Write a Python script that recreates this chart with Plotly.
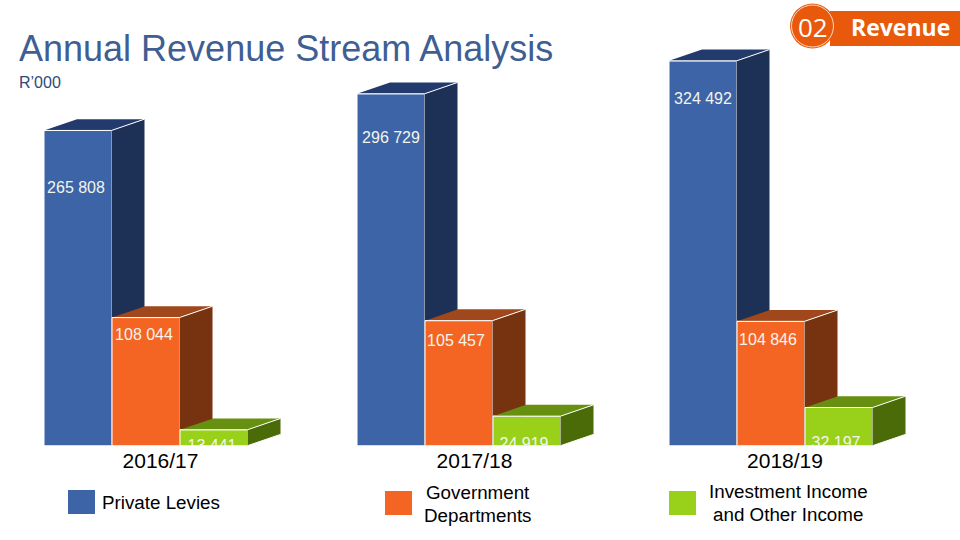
import plotly.graph_objects as go

# ---------- data ----------
years = ["2016/17", "2017/18", "2018/19"]
private_levies = [265808, 296729, 324492]
government = [108044, 105457, 104846]
investment = [13441, 24919, 32197]

series_names = ["Private Levies", "Government Departments", "Investment Income and Other Income"]
front_colors = ["#3c64a6", "#f46524", "#98d01a"]
side_colors = ["#1d3056", "#77330f", "#4a6b08"]
top_colors = ["#233a6c", "#a0471b", "#679010"]

# ---------- layout constants ----------
W, H = 960, 540
BASE_PX = 445.7
PX_PER_UNIT = 1.186 / 1000
group_left = [44, 357, 669]
bar_pitch = 68
bar_width = 67.5
depth_x = 33
depth_px = 11.3
depth_y = depth_px / PX_PER_UNIT
y_top = BASE_PX / PX_PER_UNIT
label_x = [[76, 144, 212], [391, 456, 524], [703, 768, 836]]
label_py = [[189, 336, 447], [139, 342, 445], [100, 341, 444]]


def v_from_px(p):
    return (BASE_PX - p) / PX_PER_UNIT


def py(p):
    return 1 - p / H


fig = go.Figure()
all_series = [private_levies, government, investment]
for s, values in enumerate(all_series):
    yname = "y" if s == 0 else f"y{s + 1}"
    xs = [g + s * bar_pitch + bar_width / 2 for g in group_left]
    fig.add_trace(go.Bar(
        x=xs, y=values, width=bar_width, yaxis=yname, name=series_names[s],
        marker=dict(color=front_colors[s], line=dict(color="white", width=1)),
        showlegend=False, hoverinfo="skip"))
    for x, v in zip(xs, values):
        x0, x1 = x - bar_width / 2, x + bar_width / 2
        # top face
        fig.add_trace(go.Scatter(
            x=[x0, x1, x1 + depth_x, x0 + depth_x, x0],
            y=[v, v, v + depth_y, v + depth_y, v],
            fill="toself", fillcolor=top_colors[s], mode="none", yaxis=yname,
            showlegend=False, hoverinfo="skip"))
        # side face
        fig.add_trace(go.Scatter(
            x=[x1, x1 + depth_x, x1 + depth_x, x1, x1],
            y=[v, v + depth_y, depth_y, 0, v],
            fill="toself", fillcolor=side_colors[s], mode="none", yaxis=yname,
            showlegend=False, hoverinfo="skip"))
        # white highlight edges
        fig.add_trace(go.Scatter(
            x=[x0, x1, x1 + depth_x, None, x1, x1 + depth_x],
            y=[v, v, v + depth_y, None, 0, depth_y],
            mode="lines", line=dict(color="white", width=1), yaxis=yname,
            showlegend=False, hoverinfo="skip"))

# value labels, clipped at the baseline by the axes
lx, ly, lt = [], [], []
for g in range(3):
    for s in range(3):
        lx.append(label_x[g][s])
        ly.append(v_from_px(label_py[g][s]))
        lt.append(f"{all_series[s][g]:,}".replace(",", " "))
fig.add_trace(go.Scatter(
    x=lx, y=ly, text=lt, mode="text", yaxis="y4", cliponaxis=True,
    textposition="middle center",
    textfont=dict(family="Liberation Sans", size=16, color="#f4f4ee"),
    showlegend=False, hoverinfo="skip"))

domain = [1 - BASE_PX / H, 1]
yax = dict(domain=domain, range=[0, y_top], visible=False, fixedrange=True)
shapes = [
    dict(type="rect", xref="paper", yref="paper", x0=830 / W, x1=1, y0=py(46), y1=py(11),
         fillcolor="#e8590c", line_width=0),
    dict(type="circle", xref="paper", yref="paper", x0=790 / W, x1=835 / W, y0=py(48.5), y1=py(3.5),
         fillcolor="#e8590c", line_width=0),
    dict(type="circle", xref="paper", yref="paper", x0=791.5 / W, x1=833.5 / W, y0=py(47), y1=py(5),
         fillcolor="rgba(0,0,0,0)", line=dict(color="#fbd9c4", width=1)),
    dict(type="rect", xref="paper", yref="paper", x0=68 / W, x1=95 / W, y0=py(514), y1=py(490),
         fillcolor=front_colors[0], line_width=0),
    dict(type="rect", xref="paper", yref="paper", x0=385 / W, x1=412 / W, y0=py(515), y1=py(491),
         fillcolor=front_colors[1], line_width=0),
    dict(type="rect", xref="paper", yref="paper", x0=669 / W, x1=696 / W, y0=py(515), y1=py(491),
         fillcolor=front_colors[2], line_width=0),
]


def note(text, x, y, size, color="black", anchor="center", family="Liberation Sans"):
    return dict(text=text, x=x / W, y=py(y), xref="paper", yref="paper", showarrow=False,
                xanchor=anchor, yanchor="middle", xshift=0, borderpad=0, font=dict(family=family, size=size, color=color))


annotations = [
    note("Annual Revenue Stream Analysis", 18, 48, 36, "#3f5f94", "left"),
    note("R’000", 18, 82, 16, "#2c4a7c", "left"),
    note("02", 813, 27, 26, "white", family="Open Sans"),
    note("<b>Revenue</b>", 900, 27, 23, "white", family="Open Sans"),
    note("Private Levies", 161, 502, 18.8),
    note("Government", 478, 492, 18.8),
    note("Departments", 478, 515, 18.8),
    note("Investment Income", 788, 491, 18.8),
    note("and Other Income", 788, 514, 18.8),
]

fig.update_layout(
    width=W, height=H, margin=dict(l=0, r=0, t=0, b=0), autosize=False,
    paper_bgcolor="white", plot_bgcolor="white", barmode="overlay", showlegend=False,
    xaxis=dict(range=[0, W], domain=[0, 1], showgrid=False, zeroline=False, showline=False,
               ticks="", tickmode="array",
               tickvals=[160.5, 474.5, 785], ticktext=years,
               tickfont=dict(family="Liberation Sans", size=21, color="black"), fixedrange=True),
    yaxis=yax,
    yaxis2=dict(yax, overlaying="y"),
    yaxis3=dict(yax, overlaying="y"),
    yaxis4=dict(yax, overlaying="y"),
    shapes=shapes, annotations=annotations,
)

fig.write_html("out.html", config={"displayModeBar": False},
               post_script="document.body.style.margin='0';document.body.style.overflow='hidden';")
